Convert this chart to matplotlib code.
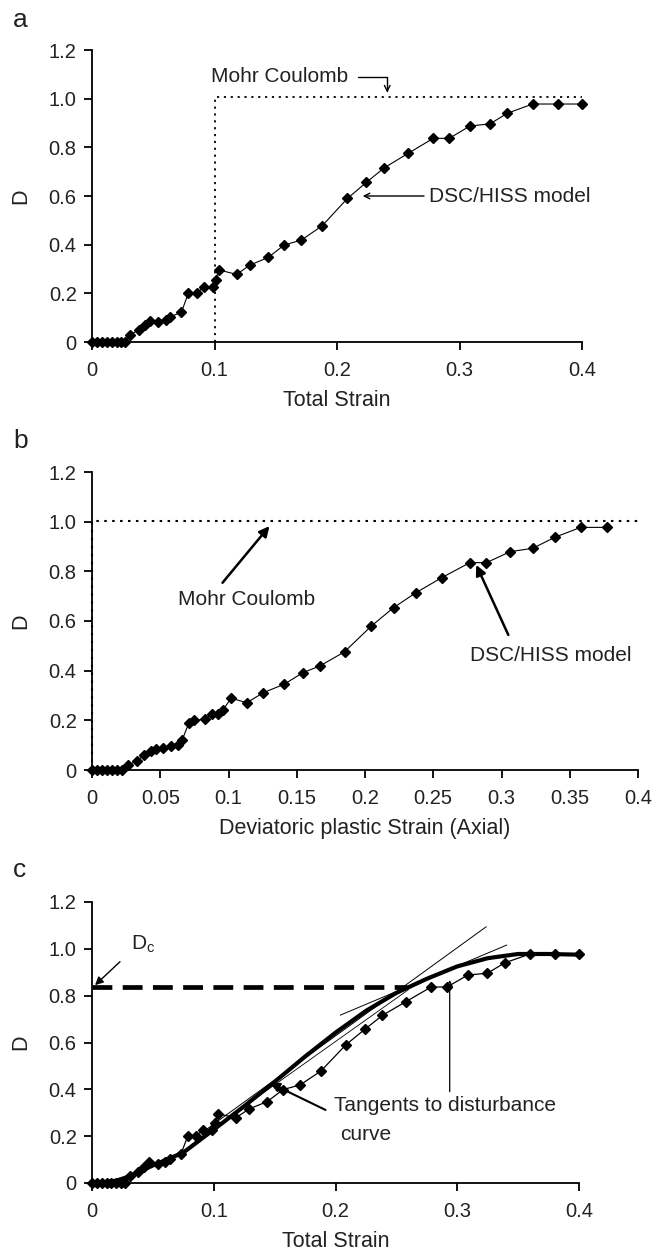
import matplotlib
matplotlib.use("Agg")
import matplotlib.pyplot as plt

plt.rcParams['font.family'] = ['Liberation Sans', 'DejaVu Sans']
plt.rcParams['mathtext.fontset'] = 'custom'
plt.rcParams['mathtext.rm'] = 'Liberation Sans'

# ---------------- data ----------------
# Panel a: D vs total strain (DSC/HISS model)
strain_a = [0, 0.004, 0.008, 0.012, 0.016, 0.02, 0.024, 0.027, 0.031, 0.038,
            0.043, 0.047, 0.054, 0.060, 0.064, 0.073, 0.0786, 0.0855, 0.0914, 0.0985,
            0.101, 0.1036, 0.118, 0.129, 0.144, 0.157, 0.171, 0.188, 0.2085, 0.224,
            0.2386, 0.258, 0.2786, 0.2916, 0.3087, 0.3248, 0.339, 0.3597, 0.380, 0.400]
D_a = [0, 0, 0, 0, 0, 0, 0, 0, 0.029, 0.049,
       0.070, 0.088, 0.083, 0.090, 0.104, 0.122, 0.200, 0.200, 0.227, 0.227,
       0.255, 0.296, 0.278, 0.316, 0.348, 0.399, 0.419, 0.478, 0.590, 0.656,
       0.716, 0.775, 0.837, 0.837, 0.888, 0.896, 0.940, 0.978, 0.978, 0.978]

# Mohr Coulomb (panel a)
mc_strain_a = [0.1, 0.1, 0.4]
mc_D_a = [0.0, 1.008, 1.008]

# Panel b: D vs deviatoric plastic strain
strain_b = [0, 0.004, 0.007, 0.011, 0.0144, 0.018, 0.022, 0.0266, 0.0327, 0.038,
            0.043, 0.047, 0.052, 0.058, 0.063, 0.066, 0.071, 0.075, 0.0825, 0.088,
            0.0925, 0.096, 0.1019, 0.1135, 0.1254, 0.141, 0.1545, 0.167, 0.185, 0.2047,
            0.221, 0.2373, 0.2564, 0.2768, 0.289, 0.3063, 0.323, 0.339, 0.358, 0.377]
D_b = [0, 0, 0, 0, 0, 0, 0, 0.020, 0.036, 0.060,
       0.075, 0.085, 0.090, 0.095, 0.100, 0.120, 0.190, 0.200, 0.204, 0.224,
       0.224, 0.242, 0.289, 0.271, 0.311, 0.346, 0.392, 0.419, 0.476, 0.580,
       0.654, 0.714, 0.775, 0.835, 0.835, 0.879, 0.893, 0.937, 0.977, 0.977]

mc_strain_b = [0.0, 0.0, 0.4]
mc_D_b = [0.0, 1.004, 1.004]

# Panel c: fitted disturbance curve
fit_strain = [0, 0.01, 0.02, 0.03, 0.05, 0.075, 0.1, 0.125, 0.15, 0.175,
              0.2, 0.225, 0.25, 0.275, 0.3, 0.325, 0.35, 0.375, 0.4]
fit_D = [0, 0.003, 0.010, 0.027, 0.075, 0.130, 0.228, 0.328, 0.432, 0.540,
         0.642, 0.735, 0.812, 0.872, 0.925, 0.960, 0.978, 0.978, 0.975]

tangent1_strain = [0.09, 0.3237]
tangent1_D = [0.214, 1.094]
tangent1b_strain = [0.095, 0.26]
tangent1b_D = [0.216, 0.826]
tangent2_strain = [0.204, 0.3406]
tangent2_D = [0.717, 1.016]

Dc_value = 0.836
Dc_strain = [0.0, 0.2587]

yticks = [0, 0.2, 0.4, 0.6, 0.8, 1.0, 1.2]
ytick_labels = ['0', '0.2', '0.4', '0.6', '0.8', '1.0', '1.2']
xticks_ac = [0, 0.1, 0.2, 0.3, 0.4]
xtick_labels_ac = ['0', '0.1', '0.2', '0.3', '0.4']
xticks_b = [0, 0.05, 0.1, 0.15, 0.2, 0.25, 0.3, 0.35, 0.4]
xtick_labels_b = ['0', '0.05', '0.1', '0.15', '0.2', '0.25', '0.3', '0.35', '0.4']

TXT = '#222222'
W, H = 666, 1254

fig = plt.figure(figsize=(W / 100, H / 100), dpi=100)
axA = fig.add_axes([92 / W, 1 - 342 / H, 490 / W, 292 / H])
axB = fig.add_axes([92 / W, 1 - 770 / H, 546 / W, 298 / H])
axC = fig.add_axes([92 / W, 1 - 1183 / H, 487 / W, 281 / H])


def style(ax, xt, xtl, xlabel, label_x):
    ax.set_xlim(0, 0.4)
    ax.set_ylim(0, 1.2)
    for s in ['top', 'right']:
        ax.spines[s].set_visible(False)
    for s in ['left', 'bottom']:
        ax.spines[s].set_linewidth(1.3)
        ax.spines[s].set_color('black')
    ax.set_xticks(xt)
    ax.set_xticklabels(xtl)
    ax.set_yticks(yticks)
    ax.set_yticklabels(ytick_labels)
    ax.tick_params(axis='both', direction='out', length=6, width=1.3,
                   labelsize=14.5, labelcolor=TXT, color='black')
    ax.tick_params(axis='x', pad=8)
    ax.tick_params(axis='y', pad=5)
    ax.set_xlabel(xlabel, fontsize=15.5, color=TXT, labelpad=7)
    ax.set_ylabel('D', fontsize=15.5, color=TXT)
    ax.yaxis.set_label_coords(label_x, 0.5)


style(axA, xticks_ac, xtick_labels_ac, 'Total Strain', -0.125)
style(axB, xticks_b, xtick_labels_b, 'Deviatoric plastic Strain (Axial)', -0.112)
style(axC, xticks_ac, xtick_labels_ac, 'Total Strain', -0.125)

dotted = (0, (1.2, 2.6))

# ---- panel a ----
axA.plot(mc_strain_a, mc_D_a, color='black', lw=1.3, linestyle=dotted, clip_on=False)
axA.plot(strain_a, D_a, color='black', lw=0.8, marker='D', ms=5.5, mec='black',
         mfc='black', clip_on=False, zorder=4)
axA.text(0.0968, 1.09, 'Mohr Coulomb', fontsize=15, color=TXT, ha='left', va='center')
axA.annotate('', xy=(0.241, 1.025), xytext=(0.217, 1.09),
             arrowprops=dict(arrowstyle='->', lw=1.0, color='black', shrinkA=0, shrinkB=0,
                             connectionstyle='angle,angleA=0,angleB=90,rad=0'))
axA.text(0.275, 0.60, 'DSC/HISS model', fontsize=15, color=TXT, ha='left', va='center')
axA.annotate('', xy=(0.221, 0.60), xytext=(0.271, 0.60),
             arrowprops=dict(arrowstyle='->', lw=1.0, color='black', shrinkA=0, shrinkB=0))

# ---- panel b ----
axB.plot(mc_strain_b, mc_D_b, color='black', lw=1.5, linestyle=dotted, clip_on=False, zorder=5)
axB.plot(strain_b, D_b, color='black', lw=0.8, marker='D', ms=5.5, mec='black',
         mfc='black', clip_on=False, zorder=4)
axB.text(0.0627, 0.685, 'Mohr Coulomb', fontsize=15, color=TXT, ha='left', va='center')
axB.annotate('', xy=(0.130, 0.982), xytext=(0.0956, 0.754),
             arrowprops=dict(arrowstyle='-|>', lw=1.8, color='black', shrinkA=0, shrinkB=0,
                             mutation_scale=15))
axB.text(0.2768, 0.463, 'DSC/HISS model', fontsize=15, color=TXT, ha='left', va='center')
axB.annotate('', xy=(0.2815, 0.826), xytext=(0.305, 0.544),
             arrowprops=dict(arrowstyle='-|>', lw=1.8, color='black', shrinkA=0, shrinkB=0,
                             mutation_scale=15))

# ---- panel c ----
axC.plot(Dc_strain, [Dc_value, Dc_value], color='black', lw=3.4, dashes=(4.2, 2.2),
         solid_capstyle='butt', dash_capstyle='butt', clip_on=False)
axC.plot(strain_a, D_a, color='black', lw=0.9, marker='D', ms=5.5, mec='black',
         mfc='black', clip_on=False, zorder=4)
axC.plot(fit_strain, fit_D, color='black', lw=3.0, clip_on=False, zorder=5)
axC.plot(tangent1_strain, tangent1_D, color='black', lw=0.7, zorder=6)
axC.plot(tangent1b_strain, tangent1b_D, color='black', lw=0.6, zorder=6)
axC.plot(tangent2_strain, tangent2_D, color='black', lw=0.7, zorder=6)
axC.text(0.032, 1.02, r'$\mathregular{D_c}$', fontsize=15, color=TXT, ha='left', va='center')
axC.annotate('', xy=(0.0025, 0.845), xytext=(0.023, 0.945),
             arrowprops=dict(arrowstyle='-|>', lw=1.0, color='black', shrinkA=0, shrinkB=0,
                             mutation_scale=12))
axC.text(0.1988, 0.333, 'Tangents to disturbance', fontsize=15, color=TXT,
         ha='left', va='center')
axC.text(0.204, 0.205, 'curve', fontsize=15, color=TXT, ha='left', va='center')
axC.annotate('', xy=(0.1462, 0.427), xytext=(0.1918, 0.312),
             arrowprops=dict(arrowstyle='-|>', lw=1.5, color='black', shrinkA=0, shrinkB=0,
                             mutation_scale=14))
axC.annotate('', xy=(0.2938, 0.867), xytext=(0.2938, 0.39),
             arrowprops=dict(arrowstyle='-|>', lw=0.9, color='black', shrinkA=0, shrinkB=0,
                             mutation_scale=9, fc='white'))

# panel letters
fig.text(13 / W, 1 - 27 / H, 'a', fontsize=19, color=TXT, ha='left', va='baseline')
fig.text(13 / W, 1 - 448 / H, 'b', fontsize=19, color=TXT, ha='left', va='baseline')
fig.text(13 / W, 1 - 877 / H, 'c', fontsize=19, color=TXT, ha='left', va='baseline')

fig.savefig('out.png', dpi=100)
